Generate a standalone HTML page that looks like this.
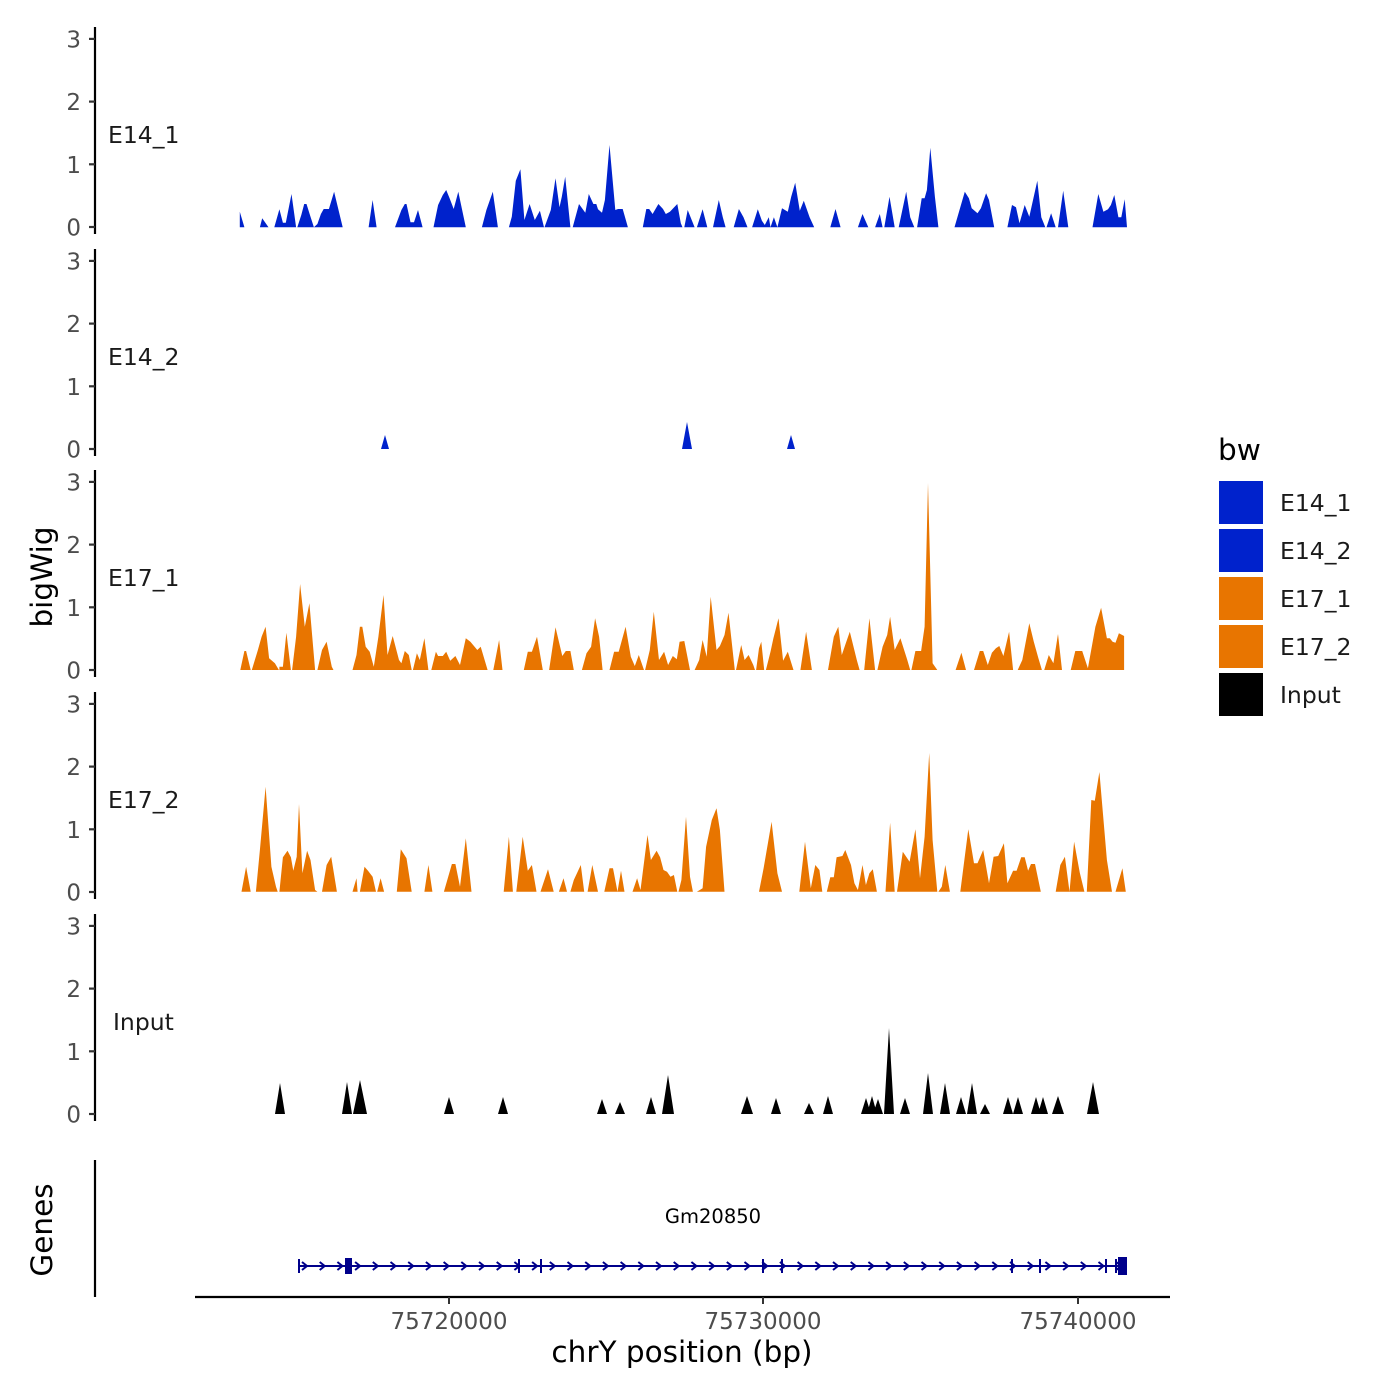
<!DOCTYPE html>
<html><head><meta charset="utf-8"><style>
html,body{margin:0;padding:0;background:#fff;}
svg{display:block;font-family:"DejaVu Sans","Liberation Sans",sans-serif;}
.t{font-size:23px;fill:#4d4d4d;}
.l{font-size:23.5px;fill:#1a1a1a;}
</style></head><body>
<svg id="s" width="1400" height="1400" viewBox="0 0 1400 1400" xmlns="http://www.w3.org/2000/svg">
<g id="axes" stroke="#000" stroke-width="2.2" fill="none"></g>
<g id="data"></g>
<g id="txt"></g>
<line x1="95" y1="1160" x2="95" y2="1297" stroke="#000" stroke-width="2.2"/>
<line x1="195" y1="1297" x2="1170" y2="1297" stroke="#000" stroke-width="2.2"/>
<g stroke="#333" stroke-width="2">
<line x1="449" y1="1297" x2="449" y2="1304"/><line x1="763" y1="1297" x2="763" y2="1304"/><line x1="1078" y1="1297" x2="1078" y2="1304"/>
</g>
<text x="449" y="1329" text-anchor="middle" class="t">75720000</text>
<text x="763" y="1329" text-anchor="middle" class="t">75730000</text>
<text x="1078" y="1329" text-anchor="middle" class="t">75740000</text>
<text x="682" y="1362" text-anchor="middle" style="font-size:29.5px;fill:#000">chrY position (bp)</text>
<text transform="translate(52,577) rotate(-90)" text-anchor="middle" style="font-size:29.5px;fill:#000">bigWig</text>
<text transform="translate(52,1230) rotate(-90)" text-anchor="middle" style="font-size:29.5px;fill:#000">Genes</text>
<text x="713" y="1223" text-anchor="middle" style="font-size:19.5px;fill:#000">Gm20850</text>
<g id="gene" stroke="#00008B" stroke-width="2" fill="none"></g>
<text x="1218" y="460" style="font-size:29.5px;fill:#000">bw</text>
<rect x="1219" y="481" width="44" height="43" fill="#0022CC"/>
<rect x="1219" y="529" width="44" height="43" fill="#0022CC"/>
<rect x="1219" y="577" width="44" height="43" fill="#E87500"/>
<rect x="1219" y="625" width="44" height="43" fill="#E87500"/>
<rect x="1219" y="673" width="44" height="43" fill="#000"/>
<text x="1280" y="511" class="l">E14_1</text>
<text x="1280" y="559" class="l">E14_2</text>
<text x="1280" y="607" class="l">E17_1</text>
<text x="1280" y="655" class="l">E17_2</text>
<text x="1280" y="703" class="l">Input</text>
</svg>
<script>
var NS="http://www.w3.org/2000/svg";
function el(p,t,a,txt){var e=document.createElementNS(NS,t);for(var k in a)e.setAttribute(k,a[k]);if(txt)e.textContent=txt;document.getElementById(p).appendChild(e);return e;}
var base=[227,449,670,892,1114],names=["E14_1","E14_2","E17_1","E17_2","Input"];
var u=62.7;
for(var i=0;i<5;i++){var b=base[i];
 el("axes","line",{x1:95,y1:b-200,x2:95,y2:b+7});
 for(var v=0;v<=3;v++){var y=b-v*u;
  el("axes","line",{x1:89,y1:y,x2:95,y2:y,stroke:"#333"});
  el("txt","text",{x:81,y:y+8.5,"text-anchor":"end","class":"t"},""+v);}
 el("txt","text",{x:i==4?113:108,y:b-84,"class":"l"},names[i]);}
function draw(segs,ox,oy,col){var d="";segs.forEach(function(s){d+="M";s.forEach(function(p,j){d+=(j?"L":"")+(ox+p[0]*0.575).toFixed(1)+","+(oy+p[1]/3).toFixed(1)+" ";});d+="Z ";});el("data","path",{d:d,fill:col});}
var p1=[[[17,292],[17,245],[25,292]],[[52,292],[56,265],[67,292]],[[77,292],[86,238],[92,278],[97,278],[107,192],[115,292]],[[117,292],[124,255],[129,222],[133,222],[140,260],[146,292]],[[146,292],[152,282],[158,252],[163,237],[172,237],[181,185],[196,292]],[[241,292],[248,210],[255,292]],[[287,292],[298,240],[304,222],[307,222],[314,277],[320,277],[327,240],[335,292]],[[354,292],[362,225],[370,195],[376,180],[382,205],[389,237],[397,185],[410,292]],[[438,292],[446,240],[457,185],[466,292]],[[485,292],[490,260],[497,152],[505,118],[512,270],[521,222],[530,270],[539,242],[546,292]],[[547,292],[558,240],[566,145],[573,232],[577,200],[583,140],[592,292]],[[596,292],[607,222],[618,248],[624,192],[632,222],[637,222],[640,238],[647,248],[652,210],[660,45],[670,240],[675,237],[683,237],[692,292]],[[718,292],[724,237],[729,237],[735,252],[745,222],[753,237],[758,252],[765,245],[778,222],[784,280],[787,292]],[[790,292],[796,240],[801,262],[808,292]],[[812,292],[822,238],[830,292]],[[840,292],[850,210],[857,262],[862,292]],[[876,292],[885,237],[893,262],[900,292]],[[908,292],[918,238],[925,272],[930,285],[937,262],[940,292],[946,262],[952,292],[960,235],[970,245],[976,200],[983,158],[991,242],[998,212],[1008,262],[1016,292]],[[1044,292],[1053,237],[1062,292]],[[1092,292],[1100,252],[1110,292]],[[1122,292],[1130,252],[1135,292],[1138,292],[1147,200],[1156,292]],[[1163,292],[1176,185],[1183,262],[1190,292]],[[1195,292],[1203,205],[1208,205],[1212,180],[1218,53],[1226,200],[1232,292]],[[1260,292],[1270,232],[1278,185],[1285,205],[1290,235],[1300,250],[1306,235],[1315,190],[1320,210],[1329,292]],[[1352,292],[1360,225],[1367,232],[1373,280],[1382,225],[1390,260],[1404,152],[1411,262],[1418,292]],[[1420,292],[1428,250],[1436,292]],[[1440,292],[1449,182],[1458,292]],[[1500,292],[1510,192],[1519,245],[1527,238],[1532,225],[1538,195],[1545,262],[1550,262],[1556,208],[1560,292]]];
draw(p1,230,130,"#0022CC");
var p3=[[[18,300],[25,243],[28,243],[36,300]],[[38,300],[48,243],[55,200],[62,170],[68,265],[78,280],[85,300]],[[86,300],[86,290],[92,290],[98,188],[106,300]],[[108,300],[115,200],[122,42],[130,170],[138,100],[148,300]],[[152,300],[160,240],[168,215],[177,290],[180,300]],[[213,300],[220,255],[226,170],[230,170],[236,230],[243,245],[250,290],[258,200],[267,75],[274,255],[283,198],[294,270],[298,280],[304,243],[311,255],[316,300]],[[318,300],[325,250],[330,270],[338,205],[345,300]],[[350,300],[358,245],[362,258],[370,258],[376,245],[383,272],[392,258],[400,285],[410,205],[418,215],[430,240],[436,230],[448,300]],[[458,300],[468,210],[474,300]],[[511,300],[518,245],[525,245],[534,200],[544,300]],[[555,300],[566,172],[578,258],[584,243],[592,243],[598,300]],[[612,300],[620,250],[628,230],[635,145],[642,200],[648,300]],[[660,300],[668,245],[676,245],[688,170],[697,260],[704,288],[711,255],[720,300]],[[722,300],[730,240],[737,125],[746,270],[755,245],[762,285],[770,258],[777,268],[782,215],[790,213],[800,300]],[[808,300],[816,270],[822,210],[829,260],[836,80],[846,240],[852,228],[860,195],[867,128],[878,300]],[[880,300],[889,225],[895,270],[902,255],[910,285],[913,300]],[[915,300],[920,235],[924,215],[929,300]],[[932,300],[940,245],[945,205],[954,145],[962,272],[970,245],[980,300]],[[992,300],[1002,185],[1012,300]],[[1040,300],[1050,200],[1058,170],[1064,255],[1071,220],[1078,185],[1090,270],[1095,300]],[[1103,300],[1112,145],[1122,300]],[[1126,300],[1135,230],[1143,195],[1148,140],[1156,240],[1166,205],[1178,270],[1183,300]],[[1185,300],[1192,243],[1202,243],[1208,170],[1214,-261],[1222,280],[1230,300]],[[1262,300],[1272,248],[1280,300]],[[1294,300],[1304,243],[1310,243],[1318,285],[1325,248],[1332,235],[1338,228],[1345,258],[1355,185],[1362,300]],[[1370,300],[1378,270],[1390,160],[1398,215],[1406,265],[1412,300]],[[1416,300],[1424,255],[1432,280],[1440,192],[1447,300]],[[1462,300],[1470,243],[1482,243],[1492,295],[1505,170],[1515,113],[1525,205],[1530,205],[1535,215],[1540,218],[1546,190],[1555,198],[1555,300]]];
draw(p3,230,570,"#E87500");
var p4=[[[20,335],[28,260],[36,335]],[[45,335],[52,210],[62,20],[72,260],[80,320],[83,335]],[[86,335],[92,232],[100,212],[106,232],[110,272],[116,230],[120,72],[126,280],[134,212],[140,240],[148,330],[152,335]],[[160,335],[168,255],[176,230],[186,335]],[[213,335],[220,295],[222,335]],[[226,335],[234,260],[240,272],[248,290],[254,335]],[[256,335],[262,295],[268,335]],[[290,335],[297,208],[307,235],[316,335]],[[338,335],[345,255],[352,335]],[[372,335],[386,252],[392,252],[400,320],[410,175],[420,335]],[[476,335],[485,170],[492,335]],[[498,335],[509,170],[518,272],[525,255],[533,335]],[[540,335],[553,268],[563,335]],[[572,335],[580,295],[586,335]],[[592,335],[598,300],[610,255],[616,335]],[[622,335],[630,255],[640,335]],[[651,335],[660,265],[666,265],[674,335],[680,272],[686,335]],[[700,335],[708,295],[714,330],[726,165],[732,240],[742,212],[748,232],[754,270],[760,275],[766,290],[772,285],[778,335]],[[780,335],[785,300],[793,110],[800,290],[805,335]],[[812,335],[822,325],[828,200],[838,120],[846,85],[852,150],[860,335]],[[920,335],[928,265],[942,125],[952,280],[960,335]],[[990,335],[1000,185],[1010,325],[1018,255],[1025,270],[1030,335]],[[1038,335],[1044,292],[1050,292],[1055,232],[1065,228],[1070,210],[1080,255],[1086,310],[1092,330],[1100,255],[1106,315],[1112,280],[1118,268],[1125,335]],[[1140,335],[1148,128],[1156,335]],[[1160,335],[1170,215],[1182,245],[1192,148],[1200,295],[1208,170],[1216,-81],[1222,180],[1230,335]],[[1232,335],[1238,320],[1244,255],[1252,335]],[[1270,335],[1284,148],[1294,250],[1300,250],[1310,210],[1320,310],[1328,230],[1336,228],[1346,190],[1352,310],[1362,272],[1368,272],[1376,232],[1382,232],[1388,272],[1393,252],[1400,252],[1410,335]],[[1436,335],[1444,255],[1452,230],[1460,335],[1468,185],[1478,278],[1486,335]],[[1490,335],[1498,60],[1504,62],[1512,-24],[1525,240],[1534,335]],[[1540,335],[1552,265],[1558,335]]];
draw(p4,230,780,"#E87500");
function tri(list,b,col,w){var d="";list.forEach(function(p){var hw=p[2]||w;d+="M"+(p[0]-hw)+","+b+" L"+p[0]+","+p[1]+" L"+(p[0]+hw)+","+b+" Z ";});el("data","path",{d:d,fill:col});}
tri([[385,435],[687,422,5],[791,435]],449,"#0022CC",4);
tri([[280,1083],[347,1082],[360,1080,7],[449,1097],[503,1097],[602,1099],[620,1102],[651,1097],[668,1075,6],[747,1096,6],[776,1098],[809,1103],[828,1096],[866,1098],[872,1096],[878,1099],[889,1028,5],[905,1098],[928,1073],[945,1083],[961,1097],[972,1083],[985,1104],[1008,1097],[1018,1097],[1036,1097],[1043,1097],[1058,1096,6],[1093,1082,6]],1114,"#000",5);
el("gene","line",{x1:299,y1:1266,x2:1125,y2:1266});
for(var x=305;x<1120;x+=17.7){el("gene","polyline",{points:(x-3)+",1262 "+(x+2)+",1266 "+(x-3)+",1270"});}
[299,347,519,541,763,782,1012,1040,1106,1116].forEach(function(x){el("gene","line",{x1:x,y1:1259,x2:x,y2:1273});});
el("gene","rect",{x:346,y:1259,width:5,height:14,fill:"#00008B"});
el("gene","rect",{x:1119,y:1258,width:7,height:16,fill:"#00008B"});
</script>
</body></html>
